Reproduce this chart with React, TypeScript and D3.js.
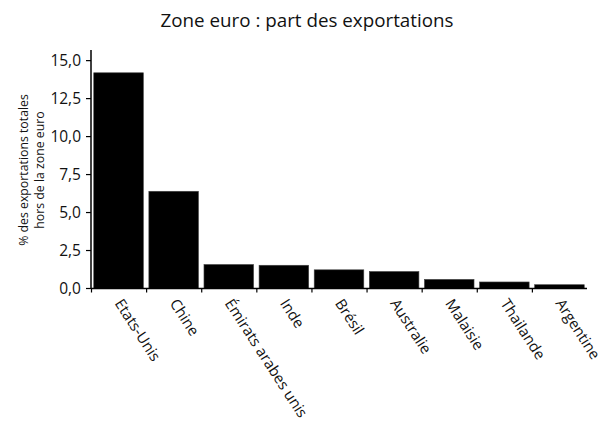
import React from "react";
import * as d3 from "d3";

// export share by destination, % of extra-euro-area exports
const countries = [
  "Etats-Unis",
  "Chine",
  "Émirats arabes unis",
  "Inde",
  "Brésil",
  "Australie",
  "Malaisie",
  "Thailande",
  "Argentine",
];
const shares = [14.2, 6.4, 1.58, 1.53, 1.23, 1.12, 0.6, 0.43, 0.25];
const yTicks = [0, 2.5, 5, 7.5, 10, 12.5, 15];

const width = 608;
const height = 423;
const margin = { top: 50, right: 21, bottom: 134.5, left: 91 };
const font = "'Open Sans', Lato, sans-serif";

export default function App() {
  const x = d3
    .scaleBand<string>()
    .domain(countries)
    .range([margin.left, width - margin.right])
    .paddingInner(0.1)
    .paddingOuter(0.05);

  const y = d3
    .scaleLinear()
    .domain([0, 15.7])
    .range([height - margin.bottom, margin.top]);

  const fmt = (v: number) => d3.format(".1f")(v).replace(".", ",");
  const step = x.step();
  const y0 = y(0);

  return (
    <svg
      width={width}
      height={height}
      style={{ position: "absolute", left: 0, top: 0 }}
      fontFamily={font}
    >
      <text x={307} y={27} textAnchor="middle" fontSize={18.8} fill="#111">
        Zone euro : part des exportations
      </text>

      <g transform="translate(28,170) rotate(-90)" fontSize={12.3} textAnchor="middle" fill="#111">
        <text x={0} y={0}>% des exportations totales</text>
        <text x={0} y={16}>hors de la zone euro</text>
      </g>

      {countries.map((c, i) => (
        <rect
          key={c}
          x={x(c)}
          y={y(shares[i])}
          width={x.bandwidth()}
          height={y0 - y(shares[i])}
          fill="#000"
          stroke="#444"
          strokeWidth={0.6}
        />
      ))}

      {/* y axis */}
      <line x1={margin.left} x2={margin.left} y1={margin.top} y2={y0} stroke="#000" strokeWidth={1.5} />
      {yTicks.map((t) => (
        <g key={t} transform={`translate(${margin.left},${y(t)})`}>
          <line x1={-5} x2={0} stroke="#000" strokeWidth={1.2} />
          <text x={-10} dy="0.35em" textAnchor="end" fontSize={15.5} fill="#111">
            {fmt(t)}
          </text>
        </g>
      ))}

      {/* x axis */}
      <line x1={margin.left} x2={width - margin.right} y1={y0} y2={y0} stroke="#000" strokeWidth={1.5} />
      {countries.map((c) => {
        const left = (x(c) ?? 0) - step * x.paddingOuter();
        const cx = (x(c) ?? 0) + x.bandwidth() / 2;
        return (
          <g key={c}>
            <line x1={left + 0.5} x2={left + 0.5} y1={y0} y2={y0 + 4} stroke="#000" strokeWidth={1.2} />
            <text
              transform={`translate(${cx},${y0 + 12}) rotate(57)`}
              dy="0.35em"
              fontSize={15}
              fill="#111"
            >
              {c}
            </text>
          </g>
        );
      })}
    </svg>
  );
}
